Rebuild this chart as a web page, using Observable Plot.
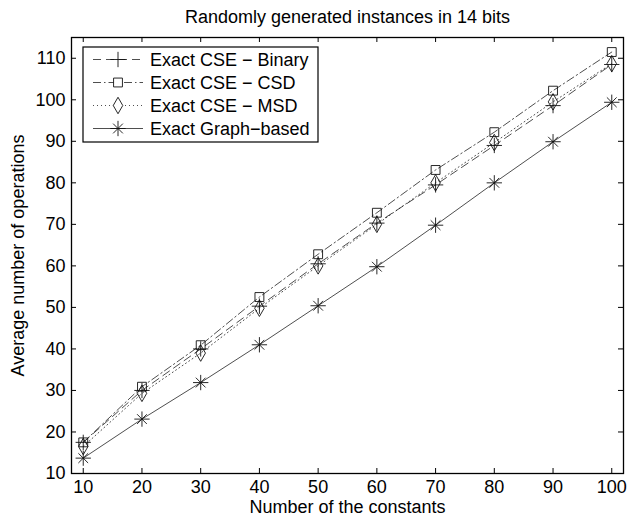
<!DOCTYPE html>
<html><head><meta charset="utf-8">
<script src="https://cdn.jsdelivr.net/npm/d3@7"></script>
<script src="https://cdn.jsdelivr.net/npm/@observablehq/plot@0.6"></script>
<style>body{margin:0;background:#fff} #chart{width:627px;height:519px}</style>
</head><body><div id="chart"></div>
<script>
const title = "Randomly generated instances in 14 bits";
const xLabel = "Number of the constants";
const yLabel = "Average number of operations";
const constants = [10, 20, 30, 40, 50, 60, 70, 80, 90, 100];
const seriesNames = ["Exact CSE − Binary", "Exact CSE − CSD", "Exact CSE − MSD", "Exact Graph−based"];
const binary = [17.5, 30.0, 40.0, 50.3, 60.5, 70.3, 79.5, 89.0, 98.6, 108.5];
const csd    = [17.5, 30.9, 40.9, 52.5, 62.8, 72.8, 83.1, 92.2, 102.2, 111.5];
const msd    = [16.5, 29.3, 39.0, 49.8, 60.0, 70.0, 80.0, 89.7, 99.5, 108.7];
const graph  = [13.7, 23.1, 31.9, 41.0, 50.4, 59.8, 69.8, 80.0, 89.9, 99.4];
const xTicks = [10, 20, 30, 40, 50, 60, 70, 80, 90, 100];
const yTicks = [10, 20, 30, 40, 50, 60, 70, 80, 90, 100, 110];

const W = 627, H = 519;
const mL = 71, mR = 4, mT = 37, mB = 46;
const pw = W - mL - mR, ph = H - mT - mB;
const tick = 5;
const FONT = "Liberation Sans, Arial, Helvetica, sans-serif";
const FS = 18;

const styles = [
  {symbols: ["plus"], dash: "8,5"},
  {symbols: ["square"], dash: "8,3,1.5,3"},
  {symbols: ["diamond"], dash: "1,3"},
  {symbols: ["plus", "times"], dash: null}
];
const allValues = [binary, csd, msd, graph];
const rows = [];
allValues.forEach((vals, s) => vals.forEach((v, i) => rows.push({series: seriesNames[s], s, x: constants[i], y: v})));

const lineMarks = [], dotMarks = [];
styles.forEach((st, s) => {
  const data = rows.filter(d => d.s === s);
  lineMarks.push(Plot.line(data, {x: "x", y: "y", stroke: "#222", strokeWidth: 0.8, strokeDasharray: st.dash}));
  st.symbols.forEach(sym => {
    dotMarks.push(Plot.dot(data, {x: "x", y: "y", symbol: () => sym, r: sym === "times" ? 4.5 : 5, stroke: "#111", fill: "none", strokeWidth: 0.9}));
  });
});

const chart = Plot.plot({
  width: W, height: H,
  marginLeft: mL, marginRight: mR, marginTop: mT, marginBottom: mB,
  style: {fontFamily: FONT, fontSize: FS + "px", color: "#000", background: "#fff"},
  x: {domain: [8, 102], axis: null},
  y: {domain: [10, 115], axis: null},
  symbol: {type: "identity"},
  marks: [
    ...lineMarks,
    ...dotMarks,
    Plot.tickX(xTicks, {x: d => d, insetTop: ph - tick, stroke: "#000"}),
    Plot.tickX(xTicks, {x: d => d, insetBottom: ph - tick, stroke: "#000"}),
    Plot.tickY(yTicks, {y: d => d, insetRight: pw - tick, stroke: "#000"}),
    Plot.tickY(yTicks, {y: d => d, insetLeft: pw - tick, stroke: "#000"}),
    Plot.axisX(xTicks, {anchor: "bottom", tickSize: 0, tickPadding: 7, fontSize: FS, label: null}),
    Plot.axisY(yTicks, {anchor: "left", tickSize: 0, tickPadding: 6, fontSize: FS, label: null}),
    Plot.frame({stroke: "#000", strokeWidth: 1.3}),
    Plot.text([title], {frameAnchor: "top", dy: -20, fontSize: FS, textAnchor: "middle", lineAnchor: "middle"}),
    Plot.text([xLabel], {frameAnchor: "bottom", dy: 34, fontSize: FS, textAnchor: "middle", lineAnchor: "middle"}),
    Plot.text([yLabel], {frameAnchor: "left", dx: -53, rotate: -90, fontSize: FS, textAnchor: "middle", lineAnchor: "middle"})
  ]
});
document.getElementById("chart").appendChild(chart);

// legend
const svg = d3.select(chart);
const lg = svg.append("g").attr("font-family", FONT).attr("font-size", FS).attr("text-anchor", "start");
const bx = 83, by = 47, bw = 235, bh = 95;
lg.append("rect").attr("x", bx).attr("y", by).attr("width", bw).attr("height", bh)
  .attr("fill", "#fff").attr("stroke", "#000").attr("stroke-width", 1.2);
const symMap = {plus: d3.symbolPlus, square: d3.symbolSquare, diamond: d3.symbolDiamond, times: d3.symbolTimes};
seriesNames.forEach((name, i) => {
  const cy = by + 12.5 + i * 23;
  lg.append("line").attr("x1", bx + 10).attr("x2", bx + 60).attr("y1", cy).attr("y2", cy)
    .attr("stroke", "#222").attr("stroke-width", 0.8).attr("stroke-dasharray", styles[i].dash);
  styles[i].symbols.forEach(sym => {
    const r = sym === "times" ? 4.5 : 5;
    lg.append("path").attr("transform", `translate(${bx + 35},${cy})`)
      .attr("d", d3.symbol(symMap[sym], r * r * Math.PI)())
      .attr("fill", sym === "square" || sym === "diamond" ? "#fff" : "none")
      .attr("stroke", "#111").attr("stroke-width", 0.9);
  });
  lg.append("text").attr("x", bx + 67).attr("y", cy).attr("dy", "0.35em").text(name);
});
</script>
</body></html>
